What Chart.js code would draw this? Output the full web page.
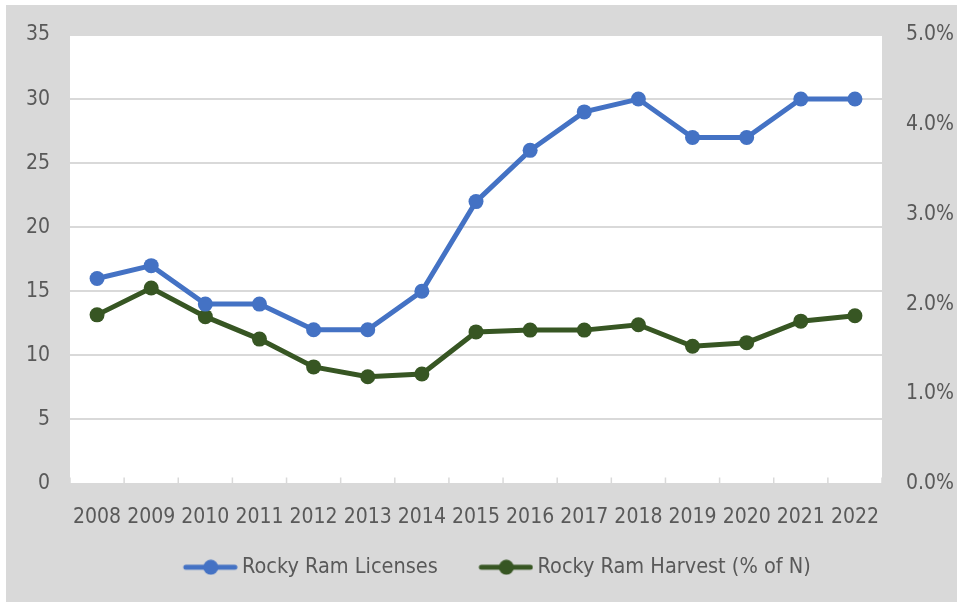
<!DOCTYPE html>
<html>
<head>
<meta charset="utf-8">
<script src="https://cdn.jsdelivr.net/npm/chart.js@4.4.1/dist/chart.umd.min.js"></script>
<style>
  body { margin: 0; background: #fff; }
  #wrap { position: absolute; left: 6px; top: 5px; width: 951px; height: 597px; }
</style>
</head>
<body>
<div id="wrap"><canvas id="chart"></canvas></div>
<script>
// Data
const years = ['2008', '2009', '2010', '2011', '2012', '2013', '2014', '2015',
  '2016', '2017', '2018', '2019', '2020', '2021', '2022'];
const licenses = [16, 17, 14, 14, 12, 12, 15, 22, 26, 29, 30, 27, 27, 30, 30];
const harvestPct = [1.88, 2.18, 1.86, 1.61, 1.30, 1.19, 1.22, 1.69, 1.71, 1.71, 1.77, 1.53, 1.57, 1.81, 1.87];
const leftTicks = [0, 5, 10, 15, 20, 25, 30, 35];
const rightTicks = [0, 1, 2, 3, 4, 5];

const BLUE = '#4472c4';
const GREEN = '#375623';
const TEXT = '#595959';
const FONT = "'DejaVu Sans Condensed', 'Liberation Sans', sans-serif";
const FS = 21;

// line-with-dot legend marker, transparent on the left to space the items
function legendMarker(color) {
  const c = document.createElement('canvas');
  c.width = 92; c.height = 16;
  const g = c.getContext('2d');
  g.strokeStyle = color;
  g.lineWidth = 5;
  g.lineCap = 'round';
  g.beginPath(); g.moveTo(40, 8); g.lineTo(89, 8); g.stroke();
  g.fillStyle = color;
  g.beginPath(); g.arc(65, 8, 7.5, 0, Math.PI * 2); g.fill();
  return c;
}
const markers = [legendMarker(BLUE), legendMarker(GREEN)];

// grey frame, white plot area, and small inside tick marks on the x axis
const frame = {
  id: 'frame',
  beforeDraw(chart) {
    const { ctx, chartArea: a } = chart;
    ctx.save();
    ctx.fillStyle = '#d9d9d9';
    ctx.fillRect(0, 0, chart.width, chart.height);
    ctx.fillStyle = '#fff';
    ctx.fillRect(a.left, a.top, a.right - a.left, a.bottom - a.top);
    ctx.restore();
  },
  beforeDatasetsDraw(chart) {
    const { ctx, chartArea: a, scales: { x } } = chart;
    ctx.save();
    ctx.strokeStyle = '#d9d9d9';
    ctx.lineWidth = 1.5;
    ctx.beginPath();
    for (let i = 0; i <= years.length; i++) {
      let px;
      if (i === 0) px = a.left;
      else if (i === years.length) px = a.right;
      else px = (x.getPixelForValue(i - 1) + x.getPixelForValue(i)) / 2;
      ctx.moveTo(px, a.bottom - 6);
      ctx.lineTo(px, a.bottom);
    }
    ctx.stroke();
    ctx.restore();
  }
};

// fixed axis boxes so the plot area lands where the reference has it
function fixVertical(width) {
  return s => { s.width = width; s.paddingTop = 0; s.paddingBottom = 0; };
}

new Chart(document.getElementById('chart'), {
  type: 'line',
  data: {
    labels: years,
    datasets: [{
      label: 'Rocky Ram Licenses',
      data: licenses,
      yAxisID: 'y',
      borderColor: BLUE,
      backgroundColor: BLUE,
      borderWidth: 5,
      pointRadius: 7.5,
      pointBorderWidth: 0,
      tension: 0
    }, {
      label: 'Rocky Ram Harvest (% of N)',
      data: harvestPct,
      yAxisID: 'y1',
      borderColor: GREEN,
      backgroundColor: GREEN,
      borderWidth: 5,
      pointRadius: 7.5,
      pointBorderWidth: 0,
      tension: 0
    }]
  },
  options: {
    responsive: true,
    maintainAspectRatio: false,
    animation: false,
    layout: { padding: { top: 30, left: 0, right: 0, bottom: 14 } },
    plugins: {
      tooltip: { enabled: false },
      legend: {
        position: 'bottom',
        labels: {
          usePointStyle: true,
          pointStyleWidth: 79,
          padding: 10,
          color: TEXT,
          font: { family: FONT, size: 21.5 },
          generateLabels(chart) {
            const items = Chart.defaults.plugins.legend.labels.generateLabels(chart);
            items.forEach((it, i) => { it.pointStyle = markers[i]; });
            return items;
          }
        }
      }
    },
    scales: {
      x: {
        offset: true,
        grid: { display: false, drawTicks: false },
        border: { display: true, color: '#d9d9d9', width: 1.5 },
        ticks: { color: TEXT, font: { family: FONT, size: FS }, padding: 21, maxRotation: 0, autoSkip: false },
        afterFit(s) { s.height = 63; }
      },
      y: {
        position: 'left',
        min: 0, max: 35,
        afterBuildTicks(s) { s.ticks = leftTicks.map(v => ({ value: v })); },
        grid: { color: '#d9d9d9', lineWidth: 2, drawTicks: false },
        border: { display: false },
        ticks: { color: TEXT, font: { family: FONT, size: FS }, padding: 20 },
        afterFit: fixVertical(64)
      },
      y1: {
        position: 'right',
        min: 0, max: 5,
        afterBuildTicks(s) { s.ticks = rightTicks.map(v => ({ value: v })); },
        grid: { drawOnChartArea: false, drawTicks: false },
        border: { display: false },
        ticks: {
          color: TEXT, font: { family: FONT, size: FS }, padding: 24,
          callback: v => v.toFixed(1) + '%'
        },
        afterFit: fixVertical(75)
      }
    }
  },
  plugins: [frame]
});
</script>
</body>
</html>
